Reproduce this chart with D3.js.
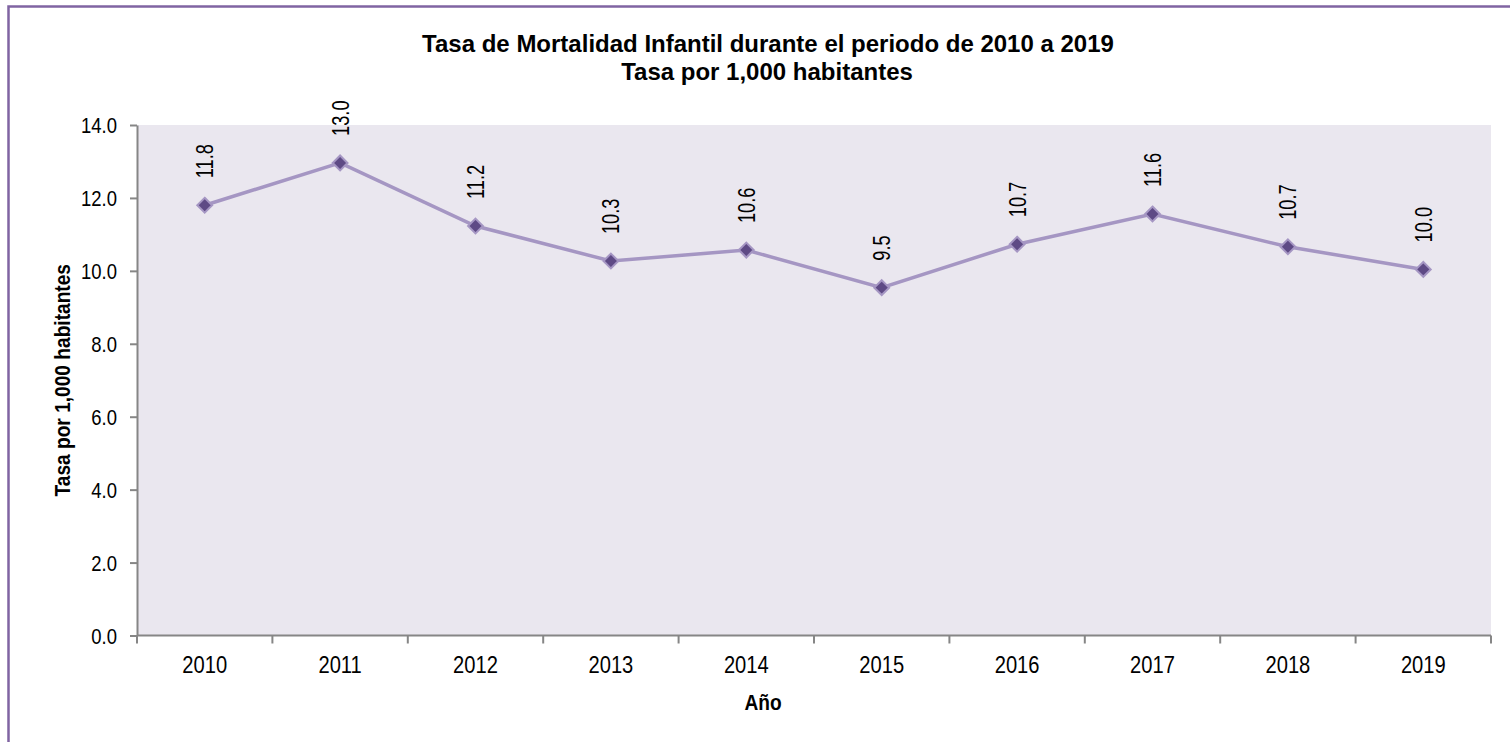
<!DOCTYPE html>
<html lang="es">
  <head>
    <meta charset="utf-8">
    <title>Tasa de Mortalidad Infantil</title>
    <script src="https://d3js.org/d3.v7.js"></script>
    <style>
      body { margin: 0; background: #fff; }
      text { font-family: "Liberation Sans Narrow", "Arial Narrow", "Liberation Sans", Arial, sans-serif; fill: #000; }
    </style>
  </head>

  <body>

  <script>

// data
  var years = ["2010", "2011", "2012", "2013", "2014", "2015", "2016", "2017", "2018", "2019"];
  var tasa = [11.8, 12.96, 11.23, 10.27, 10.57, 9.54, 10.73, 11.56, 10.66, 10.04];
  var yTicks = [0, 2, 4, 6, 8, 10, 12, 14];

  var w = 1510;
  var h = 742;
  var mLeft = 137, mRight = 1491, mTop = 125, mBottom = 635.5;
  var sx = 0.84;   // squeeze text a bit, the original font is a narrow one

  var svg = d3.select("body")
    .append("svg")
      .attr("width", w)
      .attr("height", h);

  // outer frame
  svg.append("rect")
      .attr("x", 8.5)
      .attr("y", 6.5)
      .attr("width", 1600)
      .attr("height", 800)
      .attr("fill", "none")
      .attr("stroke", "#8064A2")
      .attr("stroke-width", 2.5);

  var xScale = d3.scaleBand()
      .domain(years)
      .range([mLeft, mRight]);

  var yScale = d3.scaleLinear()
      .domain([0, 14])
      .range([mBottom, mTop]);

  // plot background
  svg.append("rect")
      .attr("x", mLeft)
      .attr("y", mTop)
      .attr("width", mRight - mLeft)
      .attr("height", mBottom - mTop)
      .attr("fill", "#EAE7EF");

  // y axis
  var yAxis = svg.append("g")
      .attr("transform", "translate(" + mLeft + ",0)")
      .call(d3.axisLeft(yScale)
        .tickValues(yTicks)
        .tickSize(7)
        .tickSizeOuter(0)
        .tickFormat(d3.format(".1f")));
  yAxis.select(".domain").attr("stroke", "#868686").attr("stroke-width", 2);
  yAxis.selectAll(".tick line").attr("stroke", "#868686").attr("stroke-width", 2);
  yAxis.selectAll(".tick text")
      .attr("font-size", 22)
      .attr("font-family", null)
      .attr("fill", "#000")
      .attr("x", -20 / sx)
      .attr("dy", "0.35em")
      .attr("transform", "scale(" + sx + ",1)");

  // x axis, labels at band centres
  var xAxis = svg.append("g")
      .attr("transform", "translate(0," + mBottom + ")")
      .call(d3.axisBottom(xScale).tickSize(0).tickSizeOuter(0));
  xAxis.select(".domain").attr("stroke", "#868686").attr("stroke-width", 2).attr("d", "M" + mLeft + ",0H" + mRight);
  xAxis.selectAll(".tick text")
      .attr("font-size", 24)
      .attr("font-family", null)
      .attr("fill", "#000")
      .attr("y", 38)
      .attr("dy", 0)
      .attr("transform", "scale(" + sx + ",1)");

  // x ticks sit on band edges
  var edges = years.map(d => xScale(d)).concat([xScale.range()[1]]);
  svg.selectAll(".edge")
      .data(edges)
      .enter().append("line")
      .attr("class", "edge")
      .attr("x1", d => d)
      .attr("x2", d => d)
      .attr("y1", mBottom)
      .attr("y2", mBottom + 8)
      .attr("stroke", "#868686")
      .attr("stroke-width", 2);

  // line
  var cx = (d, i) => xScale(years[i]) + xScale.bandwidth() / 2;

  var line = d3.line()
      .x(cx)
      .y(d => yScale(d));

  svg.append("path")
      .datum(tasa)
      .attr("d", line)
      .attr("fill", "none")
      .attr("stroke", "#A596C3")
      .attr("stroke-width", 3.5);

  // diamond markers
  svg.selectAll(".marker")
      .data(tasa)
      .enter().append("path")
      .attr("class", "marker")
      .attr("d", d3.symbol().type(d3.symbolDiamond2).size(140))
      .attr("transform", (d, i) => "translate(" + cx(d, i) + "," + yScale(d) + ")")
      .attr("fill", "#5E4A85")
      .attr("stroke", "#A596C3")
      .attr("stroke-width", 2);

  // data labels, rotated
  svg.selectAll(".label")
      .data(tasa)
      .enter().append("text")
      .attr("class", "label")
      .attr("transform", (d, i) => "translate(" + (cx(d, i) + 8.5) + "," + (yScale(d) - 27) + ") rotate(-90) scale(0.76,1)")
      .attr("font-size", 24)
      .text(d => d.toFixed(1));

  // titles
  svg.append("text")
      .attr("x", 768)
      .attr("y", 52)
      .attr("text-anchor", "middle")
      .attr("font-size", 24)
      .attr("font-weight", "bold")
      .text("Tasa de Mortalidad Infantil durante el periodo de 2010 a 2019");

  svg.append("text")
      .attr("x", 767)
      .attr("y", 80)
      .attr("text-anchor", "middle")
      .attr("font-size", 24)
      .attr("font-weight", "bold")
      .text("Tasa por 1,000 habitantes");

  svg.append("text")
      .attr("transform", "translate(70," + ((mTop + mBottom) / 2) + ") rotate(-90) scale(0.87,1)")
      .attr("text-anchor", "middle")
      .attr("font-size", 22)
      .attr("font-weight", "bold")
      .text("Tasa por 1,000 habitantes");

  svg.append("text")
      .attr("transform", "translate(763,710) scale(0.87,1)")
      .attr("text-anchor", "middle")
      .attr("font-size", 22)
      .attr("font-weight", "bold")
      .text("Año");

    </script>

  </body>

</html>
